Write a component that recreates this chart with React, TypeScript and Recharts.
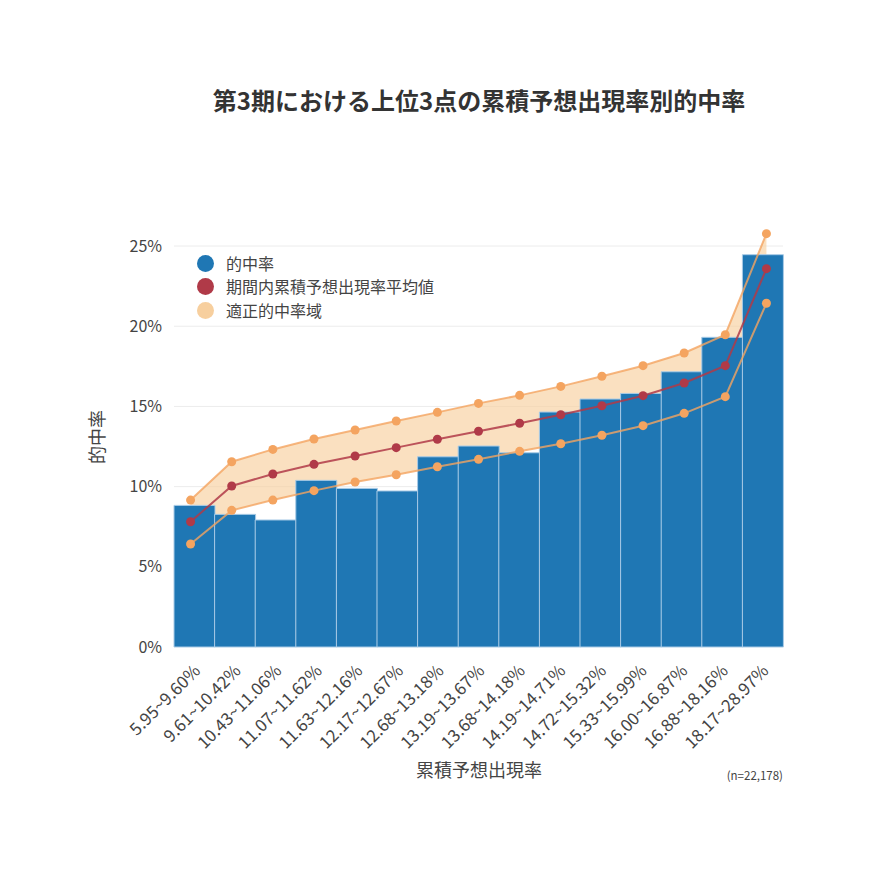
import { ComposedChart, Bar, Line, Area, XAxis, YAxis, CartesianGrid } from "recharts";

// 累積予想出現率の区間
const categories = [
  "5.95~9.60%",
  "9.61~10.42%",
  "10.43~11.06%",
  "11.07~11.62%",
  "11.63~12.16%",
  "12.17~12.67%",
  "12.68~13.18%",
  "13.19~13.67%",
  "13.68~14.18%",
  "14.19~14.71%",
  "14.72~15.32%",
  "15.33~15.99%",
  "16.00~16.87%",
  "16.88~18.16%",
  "18.17~28.97%",
];

const hitRate = [8.83, 8.27, 7.92, 10.39, 9.89, 9.73, 11.86, 12.53, 12.11, 14.65, 15.46, 15.81, 17.16, 19.31, 24.46];
const meanRate = [7.81, 10.04, 10.79, 11.39, 11.91, 12.43, 12.95, 13.45, 13.95, 14.48, 15.04, 15.67, 16.46, 17.54, 23.59];
const upperRate = [9.16, 11.55, 12.32, 12.97, 13.53, 14.09, 14.63, 15.19, 15.69, 16.25, 16.88, 17.54, 18.33, 19.47, 25.77];
const lowerRate = [6.42, 8.52, 9.16, 9.75, 10.29, 10.74, 11.24, 11.7, 12.2, 12.67, 13.2, 13.8, 14.57, 15.61, 21.43];

const yTicks = [0, 5, 10, 15, 20, 25];

const FONT = '"Noto Sans CJK JP", "Noto Sans", sans-serif';
const BLUE = "#1f77b4";
const RED = "#b03a48";
const ORANGE = "#f4a460";
const BAND = "#f7cf9e";

const data = categories.map((name, i) => ({
  name,
  hit: hitRate[i],
  mean: meanRate[i],
  upper: upperRate[i],
  lower: lowerRate[i],
  band: [lowerRate[i], upperRate[i]],
}));

const legendItems = [
  { label: "的中率", color: BLUE },
  { label: "期間内累積予想出現率平均値", color: RED },
  { label: "適正的中率域", color: BAND },
];

function XTick(props: any) {
  const { x, y, payload } = props;
  return (
    <text
      transform={`translate(${x + 7},${y + 25}) rotate(-45)`}
      textAnchor="end"
      fontSize={17}
      fill="#444"
      fontFamily={FONT}
    >
      {payload.value}
    </text>
  );
}

export default function App() {
  const dot = (c: string) => ({ r: 4.5, fill: c, stroke: c, strokeWidth: 0 });
  return (
    <div style={{ position: "relative", width: 870, height: 870, fontFamily: FONT, background: "#fff" }}>
      <style>{"body{margin:0}"}</style>
      <div
        style={{
          position: "absolute",
          top: 82,
          left: 0,
          width: 958,
          textAlign: "center",
          fontSize: 24,
          fontWeight: 700,
          color: "#333",
        }}
      >
        第3期における上位3点の累積予想出現率別的中率
      </div>

      <ComposedChart
        width={870}
        height={870}
        data={data}
        margin={{ top: 230, right: 87, bottom: 163, left: 114 }}
        barCategoryGap={0}
        barGap={0}
      >
        <CartesianGrid vertical={false} stroke="#ececec" horizontalValues={[5, 10, 15, 20, 25]} />
        <XAxis
          dataKey="name"
          axisLine={false}
          tickLine={false}
          tickSize={0}
          tickMargin={0}
          height={60}
          interval={0}
          tick={<XTick />}
        />
        <XAxis xAxisId="pts" dataKey="name" hide padding={{ left: -4, right: -4 }} />
        <YAxis
          domain={[0, 26]}
          ticks={yTicks}
          width={60}
          axisLine={false}
          tickLine={false}
          tickSize={6}
          tickMargin={6}
          tickFormatter={(v) => `${v}%`}
          tick={{ fontSize: 16, fill: "#444", fontFamily: FONT }}
        />
        <Area
          xAxisId="pts"
          dataKey="band"
          type="linear"
          stroke="none"
          fill={BAND}
          fillOpacity={0.65}
          isAnimationActive={false}
        />
        <Bar dataKey="hit" fill={BLUE} stroke="#a9cbe6" strokeWidth={1} isAnimationActive={false} />
        <Line
          xAxisId="pts"
          dataKey="upper"
          type="linear"
          stroke={ORANGE}
          strokeOpacity={0.8}
          strokeWidth={2}
          dot={dot(ORANGE)}
          isAnimationActive={false}
        />
        <Line
          xAxisId="pts"
          dataKey="lower"
          type="linear"
          stroke={ORANGE}
          strokeOpacity={0.8}
          strokeWidth={2}
          dot={dot(ORANGE)}
          isAnimationActive={false}
        />
        <Line
          xAxisId="pts"
          dataKey="mean"
          type="linear"
          stroke={RED}
          strokeOpacity={0.85}
          strokeWidth={2}
          dot={dot(RED)}
          isAnimationActive={false}
        />
      </ComposedChart>

      <div style={{ position: "absolute", left: 197, top: 252 }}>
        {legendItems.map((item) => (
          <div key={item.label} style={{ display: "flex", alignItems: "center", height: 23.3 }}>
            <span
              style={{
                width: 17,
                height: 17,
                borderRadius: "50%",
                background: item.color,
                display: "inline-block",
                marginRight: 12,
              }}
            />
            <span style={{ fontSize: 16, color: "#444", lineHeight: "23px" }}>{item.label}</span>
          </div>
        ))}
      </div>

      <div
        style={{
          position: "absolute",
          left: 96,
          top: 437,
          transform: "translate(-50%, -50%) rotate(-90deg)",
          fontSize: 18,
          color: "#444",
          whiteSpace: "nowrap",
        }}
      >
        的中率
      </div>

      <div
        style={{
          position: "absolute",
          left: 479,
          top: 769,
          transform: "translate(-50%, -50%)",
          fontSize: 18,
          color: "#444",
          whiteSpace: "nowrap",
        }}
      >
        累積予想出現率
      </div>

      <div
        style={{
          position: "absolute",
          right: 87,
          top: 775,
          transform: "translateY(-50%)",
          fontSize: 11.5,
          color: "#444",
          whiteSpace: "nowrap",
        }}
      >
        (n=22,178)
      </div>
    </div>
  );
}
